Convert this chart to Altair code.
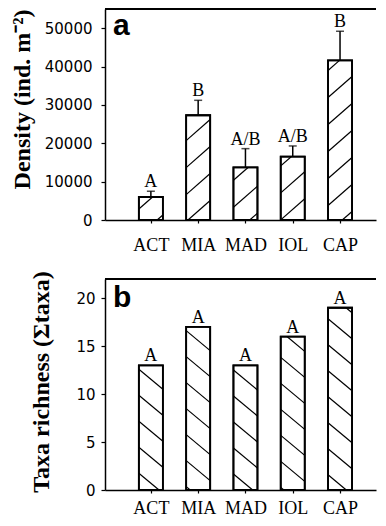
import json
import altair as alt
import numpy as np
import pandas as pd

# ---- data ----
sites = ["ACT", "MIA", "MAD", "IOL", "CAP"]
density = [6000, 27300, 13700, 16500, 41600]
density_err = [1500, 3900, 4900, 2800, 7600]
density_letters = ["A", "B", "A/B", "A/B", "B"]
richness = [13, 17, 13, 16, 19]
richness_letters = ["A", "A", "A", "A", "A"]

W, H = 271, 211
XMIN = -0.97
XMAX = XMIN + W / 47.29
HALF = 0.254
SERIF = "Liberation Serif"


def hatch(values, ymax, slope, period, phase):
    u = W / (XMAX - XMIN)
    ky = H / ymax
    rows = []
    for i, v in enumerate(values):
        xl = (i - HALF - XMIN) * u
        xr = (i + HALF - XMIN) * u
        yt = v * ky
        bs = [yy - slope * xx for xx in (xl, xr) for yy in (0, yt)]
        kmin = int(np.floor((min(bs) - phase) / period))
        kmax = int(np.ceil((max(bs) - phase) / period))
        for k in range(kmin, kmax + 1):
            b = phase + period * k
            xa = (0 - b) / slope
            xb = (yt - b) / slope
            lo = max(min(xa, xb), xl)
            hi = min(max(xa, xb), xr)
            if hi - lo > 0.8:
                rows.append(dict(x=lo / u + XMIN, x2=hi / u + XMIN,
                                 y=(slope * lo + b) / ky, y2=(slope * hi + b) / ky))
    return pd.DataFrame(rows)


def panel(values, errs, letters, ymax, ticks, title, title_x, title_y,
          label_pad, xlabel_pad, tag, tag_y, slope, period, phase):
    df = pd.DataFrame({
        "site": sites,
        "idx": list(range(len(sites))),
        "val": values,
        "top": [v + e for v, e in zip(values, errs)],
        "letter": letters,
    })
    df["x1"] = df["idx"] - HALF
    df["x2"] = df["idx"] + HALF
    df["zero"] = 0

    xscale = alt.Scale(domain=[XMIN, XMAX], nice=False, zero=False)
    yscale = alt.Scale(domain=[0, ymax], nice=False)
    label_expr = json.dumps(sites) + "[datum.value]"

    xaxis = alt.Axis(values=list(range(len(sites))), labelExpr=label_expr, title=None,
                     grid=False, labelFont=SERIF, labelFontSize=18, labelColor="black",
                     tickSize=3, tickColor="black", tickWidth=1.2, labelPadding=xlabel_pad,
                     domainColor="black", domainWidth=1.5, labelFlush=False)
    yaxis = alt.Axis(values=ticks, format="d", title=title, grid=False,
                     labelFont="DejaVu Sans", labelFontSize=15, labelColor="black",
                     tickSize=4, tickColor="black", tickWidth=1.2, labelPadding=label_pad,
                     domainColor="black", domainWidth=1.5,
                     titleFont=SERIF, titleFontSize=24, titleFontWeight="bold",
                     titleColor="black", titleX=title_x, titleY=title_y,
                     titleBaseline="alphabetic", titleAlign="center")

    base = alt.Chart(df)
    bars = base.mark_rect(fill="white", stroke="black", strokeWidth=1.8).encode(
        x=alt.X("x1:Q", scale=xscale, axis=xaxis),
        x2="x2:Q",
        y=alt.Y("val:Q", scale=yscale, axis=yaxis),
        y2="zero:Q",
    )
    hd = hatch(values, ymax, slope, period, phase)
    hatches = alt.Chart(hd).mark_rule(color="black", strokeWidth=1.2).encode(
        x=alt.X("x:Q", scale=xscale), x2="x2:Q",
        y=alt.Y("y:Q", scale=yscale), y2="y2:Q",
    )
    outline = base.mark_rect(fill=None, stroke="black", strokeWidth=1.8).encode(
        x=alt.X("x1:Q", scale=xscale), x2="x2:Q",
        y=alt.Y("val:Q", scale=yscale), y2="zero:Q",
    )
    layers = [bars, hatches, outline]
    text_field = "val:Q"
    if any(e > 0 for e in errs):
        err = base.mark_rule(color="black", strokeWidth=1.5).encode(
            x=alt.X("idx:Q", scale=xscale),
            y=alt.Y("val:Q", scale=yscale), y2="top:Q",
        )
        cap = base.mark_tick(color="black", orient="horizontal", size=8, thickness=1.5).encode(
            x=alt.X("idx:Q", scale=xscale),
            y=alt.Y("top:Q", scale=yscale),
        )
        layers += [err, cap]
        text_field = "top:Q"
    letters_m = base.mark_text(font=SERIF, fontSize=18, color="black", baseline="alphabetic",
                               dy=-4).encode(
        x=alt.X("idx:Q", scale=xscale),
        y=alt.Y(text_field, scale=yscale),
        text="letter:N",
    )
    top_rule = base.mark_rule(color="black", strokeWidth=1.5).encode(
        x=alt.value(0), x2=alt.value(W), y=alt.value(0))
    tag_m = alt.Chart(pd.DataFrame({"t": [tag]})).mark_text(
        font="Liberation Sans", fontWeight="bold", fontSize=30, color="black",
        align="left", baseline="top").encode(
        text="t:N", x=alt.value(8), y=alt.value(tag_y))
    layers += [letters_m, top_rule, tag_m]
    return alt.layer(*layers).properties(width=W, height=H)


top = panel(density, density_err, density_letters, 55000,
            [0, 10000, 20000, 30000, 40000, 50000], "Density (ind. m⁻²)",
            -76, 90, 9, 13, "a", 1.5, 0.875, 27.0, 8.4)
bottom = panel(richness, [0] * 5, richness_letters, 22, [0, 5, 10, 15, 20],
               "Taxa richness (Σtaxa)", -57, 102.5, 6, 6, "b", 4.3, -0.833, 26.0, 19.0)

chart = alt.vconcat(top, bottom, spacing=59, bounds="flush").properties(
    padding={"left": 1, "top": 0, "right": 0, "bottom": 0}
).configure_view(stroke=None)

chart.save("out.html", embed_options={"renderer": "svg", "actions": False})
